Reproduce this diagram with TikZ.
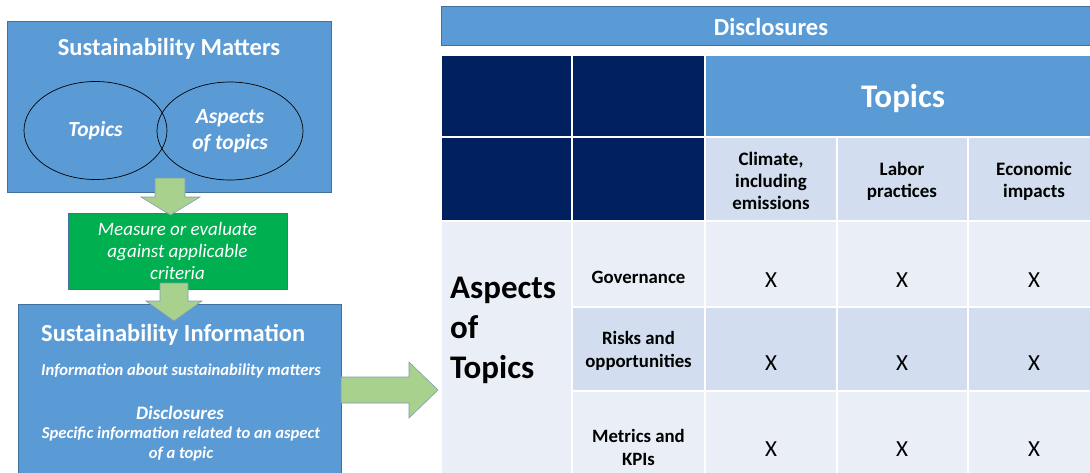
\documentclass[tikz,border=0pt]{standalone}
\usepackage{fontspec}
\setmainfont{Carlito}
\usetikzlibrary{shapes.geometric}

\definecolor{accblue}{HTML}{5B9BD5}
\definecolor{boxline}{HTML}{41719C}
\definecolor{navy}{HTML}{002060}
\definecolor{bandA}{HTML}{D2DEEF}
\definecolor{bandB}{HTML}{EAEFF7}
\definecolor{measgreen}{HTML}{00B050}
\definecolor{arrowgreen}{HTML}{A9D18E}
\definecolor{arrowline}{HTML}{7E9BB5}

\newcommand{\fsz}[2]{\fontsize{#1}{#2}\selectfont}

\begin{document}
\begin{tikzpicture}[x=1pt, y=-1pt,
	bluebox/.style={fill=accblue, draw=boxline, line width=0.7pt},
	blockarrow/.style={fill=arrowgreen, draw=arrowline, line width=0.6pt},
	cell/.style={draw=white, line width=1.6pt},
	wtext/.style={text=white, align=center, inner sep=0pt}]
	\useasboundingbox (0,0) rectangle (1090,472);
	\clip (0,0) rectangle (1090,472);

	% sustainability matters
	\draw[bluebox] (7,21) rectangle (331,192);
	\node[wtext, font=\fsz{24.5}{28}\bfseries] (matters) at (169,49) {Sustainability Matters};
	\node[ellipse, draw=black, line width=0.7pt, minimum width=143, minimum height=98, text=white, font=\fsz{21.5}{26}\bfseries\itshape] (topics) at (95.5,130.5) {Topics};
	\node[ellipse, draw=black, line width=0.7pt, minimum width=146, minimum height=98, text=white, align=center, font=\fsz{21.5}{26}\bfseries\itshape] (aspects) at (230,131) {Aspects\\of topics};

	% measure
	\node[draw=boxline, fill=measgreen, line width=0.7pt, minimum width=219, minimum height=76, text=white, align=center, font=\fsz{19}{22}\itshape] (measure) at (177.5,251) {Measure or evaluate\\against applicable\\criteria};
	\draw[blockarrow] (155,178) -- (185,178) -- (185,197) -- (200,197) -- (170.5,215) -- (141,197) -- (155,197) -- cycle;

	% sustainability information
	\draw[bluebox] (18,304) rectangle (341,480);
	\node[wtext, font=\fsz{24.5}{28}\bfseries, anchor=west] (info) at (41,335) {Sustainability Information};
	\node[wtext, font=\fsz{16.6}{19}\bfseries\itshape] (about) at (181,371) {Information about sustainability matters};
	\node[wtext, font=\fsz{19}{22}\bfseries\itshape] (discl) at (180,413) {Disclosures};
	\node[wtext, font=\fsz{16.6}{20}\bfseries\itshape] (specific) at (181,444) {Specific information related to an aspect\\of a topic};
	\draw[blockarrow] (160,283) -- (188,283) -- (188,301) -- (202,301) -- (174,321) -- (146,301) -- (160,301) -- cycle;

	\draw[blockarrow] (341,377) -- (409,377) -- (409,362) -- (438,390) -- (409,418) -- (409,403) -- (341,403) -- cycle;

	% disclosures table
	\draw[fill=accblue, draw=boxline, line width=0.7pt] (441,6) rectangle (1095,45);
	\node[wtext, font=\fsz{24.5}{28}\bfseries] (disclosures) at (771,27) {Disclosures};

	\foreach \yt/\yb in {55/137, 137/221}
	{
		\draw[cell, fill=navy] (441,\yt) rectangle (572,\yb);
		\draw[cell, fill=navy] (572,\yt) rectangle (705,\yb);
	}
	\draw[cell, fill=accblue] (705,55) rectangle (1095,137);
	\node[wtext, font=\fsz{33}{38}\bfseries] (topicshead) at (903,99) {Topics};

	\foreach \xl/\xr/\xc/\name/\ctext in {705/837/771/climate/{Climate,\\including\\emissions}, 837/968/902/labor/{Labor\\practices}, 968/1095/1034/economic/{Economic\\impacts}}
	{
		\draw[cell, fill=bandA] (\xl,137) rectangle (\xr,221);
		\node[align=center, font=\fsz{19}{22}\bfseries] (\name) at (\xc,181) {\ctext};
	}

	\draw[cell, fill=bandB] (441,221) rectangle (572,480);
	\node[anchor=west, align=left, inner sep=0pt, font=\fsz{33}{40}\bfseries] (aspectshead) at (450,330) {Aspects\\of\\Topics};

	\foreach \r/\yt/\yb/\band/\lab/\ly/\xy in {1/221/307/bandB/Governance/277/280, 2/307/391/bandA/{Risks and\\opportunities}/351/363, 3/391/480/bandB/{Metrics and\\KPIs}/447/449}
	{
		\foreach \xl/\xr in {572/705, 705/837, 837/968, 968/1095}
			\draw[cell, fill=\band] (\xl,\yt) rectangle (\xr,\yb);
		\node[align=center, font=\fsz{18.8}{23}\bfseries] (aspect\r) at (638.5,\ly) {\lab};
		\foreach \xc [count=\c] in {771,902,1034}
			\node[font=\fsz{23}{26}] (mark\r\c) at (\xc,\xy) {X};
	}
\end{tikzpicture}
\end{document}
